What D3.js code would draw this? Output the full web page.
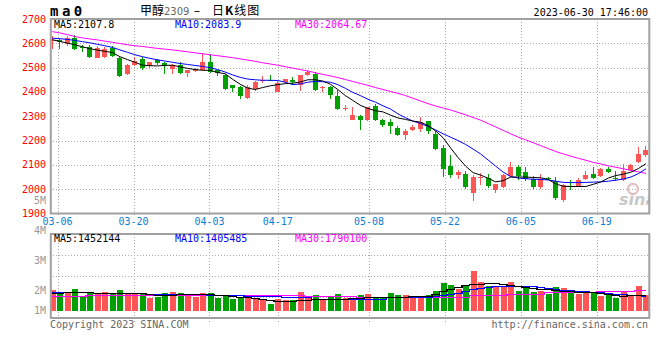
<!DOCTYPE html>
<html lang="zh">
<head>
<meta charset="UTF-8">
<script src="https://d3js.org/d3.v7.min.js"></script>
<style>
    body { margin: 0; background: #fff; }
    svg { display: block; }
    text { font-family: "DejaVu Sans Mono", monospace; font-size: 10px; }
</style>
<title>甲醇2309 日K线图</title>
</head>
<body>
<svg id="chart" width="660" height="360"></svg>
<script>

const dates = ["03-03","03-06","03-07","03-08","03-09","03-10","03-13","03-14","03-15","03-16","03-17",
    "03-20","03-21","03-22","03-23","03-24","03-27","03-28","03-29","03-30","03-31",
    "04-03","04-04","04-06","04-07","04-10","04-11","04-12","04-13","04-14",
    "04-17","04-18","04-19","04-20","04-21","04-24","04-25","04-26","04-27","04-28",
    "05-04","05-05","05-08","05-09","05-10","05-11","05-12","05-15","05-16","05-17","05-18","05-19",
    "05-22","05-23","05-24","05-25","05-26","05-29","05-30","05-31","06-01","06-02",
    "06-05","06-06","06-07","06-08","06-09","06-12","06-13","06-14","06-15","06-16",
    "06-19","06-20","06-21","06-26","06-27","06-28","06-29","06-30"];

const open = [2610,2612,2595,2622,2583,2585,2541,2544,2582,2541,2473,2510,2537,2507,2530,2519,2492,2509,2478,2486,
    2489,2523,2489,2471,2427,2420,2373,2411,2446,2449,2400,2441,2448,2427,2468,2475,2417,2420,2383,2333,
    2283,2300,2283,2342,2283,2276,2252,2222,2245,2249,2279,2226,2171,2094,2060,2064,1985,2044,2044,1996,
    2007,2057,2092,2071,2040,2007,2046,2034,1955,2015,2014,2040,2064,2055,2082,2048,2037,2078,2112,2140];
const high = [2629,2616,2630,2635,2595,2595,2590,2585,2590,2545,2515,2545,2545,2525,2535,2525,2515,2523,2492,2500,
    2560,2558,2492,2475,2430,2423,2427,2445,2465,2470,2445,2455,2460,2470,2489,2480,2425,2423,2410,2345,
    2338,2305,2340,2350,2290,2290,2260,2249,2265,2296,2282,2240,2180,2139,2080,2076,2058,2068,2064,2020,
    2064,2110,2100,2092,2055,2064,2050,2050,2020,2037,2045,2075,2092,2088,2092,2073,2105,2103,2174,2177];
const low = [2575,2578,2590,2571,2564,2540,2538,2540,2545,2461,2470,2505,2490,2500,2510,2475,2475,2475,2461,2483,
    2485,2478,2466,2410,2400,2371,2371,2405,2435,2445,2398,2436,2430,2402,2465,2405,2400,2373,2325,2320,
    2283,2242,2280,2280,2255,2229,2218,2204,2240,2237,2229,2160,2049,2045,2043,1999,1951,2016,2004,1985,
    2005,2050,2039,2035,2000,2000,2040,1957,1948,1996,2010,2038,2043,2050,2065,2033,2035,2075,2108,2133];
const close = [2613,2603,2620,2575,2580,2545,2582,2578,2550,2467,2510,2527,2500,2523,2517,2509,2509,2478,2489,2496,
    2523,2482,2475,2414,2414,2383,2420,2441,2449,2447,2438,2452,2438,2468,2482,2411,2419,2386,2329,2335,
    2304,2283,2338,2283,2263,2260,2222,2239,2256,2276,2239,2164,2085,2055,2071,2009,2050,2050,2012,2020,
    2057,2092,2055,2044,2007,2040,2043,1966,2016,2012,2037,2057,2046,2082,2071,2046,2075,2098,2143,2160];

// volume, million lots
const volume = [1.77,1.66,1.56,1.83,1.39,1.66,1.51,1.66,1.51,1.77,1.60,1.60,1.51,1.28,1.34,1.60,1.66,1.60,1.45,1.34,
    1.60,1.60,1.28,1.39,1.20,1.34,1.31,1.20,1.14,0.88,1.18,1.14,1.14,1.66,1.28,1.45,1.22,1.31,1.51,1.24,
    1.24,1.45,1.51,1.24,1.24,1.60,1.45,1.45,1.34,1.34,1.45,1.72,2.23,2.08,1.83,2.02,2.98,2.29,2.02,1.97,
    1.97,2.29,1.72,1.87,1.66,1.72,1.51,1.97,1.87,1.72,1.51,1.66,1.60,1.39,1.45,1.24,1.72,1.45,2.02,1.45];

const ma5 = [2615,2608,2601,2594,2586,2578,2572,2567,2562,2545,2533,2522,2510,2508,2507,2509,2510,2503,2497,2492,
    2489,2489,2480,2475,2452,2432,2416,2410,2418,2425,2430,2434,2436,2441,2450,2450,2445,2432,2410,2385,
    2365,2345,2332,2323,2318,2305,2293,2287,2280,2276,2262,2240,2212,2170,2130,2095,2068,2058,2045,2030,
    2035,2050,2050,2050,2048,2047,2040,2022,2012,2011,2011,2011,2020,2030,2046,2056,2062,2070,2085,2105];
const ma10 = [2621,2619,2616,2612,2607,2602,2596,2590,2583,2573,2563,2553,2545,2538,2532,2527,2522,2517,2513,2509,
    2505,2500,2492,2482,2470,2460,2453,2450,2448,2448,2447,2440,2430,2433,2440,2443,2442,2440,2430,2415,
    2398,2385,2370,2358,2343,2330,2310,2294,2280,2270,2258,2244,2228,2214,2200,2184,2165,2145,2120,2095,
    2070,2052,2046,2043,2041,2040,2038,2033,2028,2027,2027,2028,2029,2030,2033,2037,2042,2050,2064,2084];
const ma30 = [2648,2643,2636,2628,2622,2618,2614,2609,2604,2599,2594,2590,2587,2583,2579,2576,2573,2569,2565,2561,
    2557,2553,2549,2545,2541,2536,2531,2526,2520,2515,2510,2504,2498,2492,2486,2479,2472,2466,2459,2451,
    2443,2435,2427,2418,2410,2402,2394,2385,2374,2363,2352,2342,2334,2326,2316,2306,2295,2284,2270,2256,
    2242,2228,2214,2203,2191,2179,2167,2155,2145,2136,2127,2119,2110,2104,2096,2090,2084,2077,2071,2065];

const vma5 = [1.58,1.58,1.62,1.66,1.64,1.62,1.58,1.55,1.55,1.58,1.55,1.55,1.58,1.50,1.45,1.42,1.48,1.50,1.50,1.52,
    1.52,1.50,1.45,1.42,1.38,1.35,1.30,1.26,1.22,1.15,1.10,1.07,1.07,1.12,1.15,1.22,1.22,1.20,1.18,1.20,
    1.28,1.28,1.30,1.30,1.34,1.34,1.34,1.34,1.36,1.38,1.40,1.51,1.72,1.85,1.97,2.10,2.15,2.15,2.19,2.19,
    2.15,2.08,2.00,1.94,1.88,1.83,1.80,1.75,1.72,1.70,1.66,1.66,1.64,1.58,1.51,1.45,1.39,1.42,1.48,1.45];
const vma10 = [1.62,1.62,1.62,1.62,1.62,1.62,1.55,1.55,1.55,1.55,1.55,1.55,1.55,1.52,1.52,1.52,1.52,1.52,1.52,1.52,
    1.52,1.48,1.48,1.48,1.48,1.48,1.38,1.38,1.38,1.38,1.38,1.30,1.30,1.30,1.30,1.18,1.18,1.18,1.18,1.22,
    1.22,1.22,1.22,1.22,1.22,1.32,1.32,1.32,1.32,1.32,1.32,1.38,1.45,1.52,1.60,1.68,1.80,1.88,1.95,2.00,
    2.02,2.03,2.03,2.02,2.00,1.95,1.88,1.83,1.78,1.74,1.72,1.70,1.66,1.62,1.56,1.52,1.50,1.48,1.45,1.41];
const vma30 = [1.40,1.40,1.40,1.40,1.40,1.47,1.47,1.47,1.47,1.47,1.47,1.47,1.47,1.47,1.47,1.47,1.47,1.47,1.47,1.47,
    1.47,1.47,1.47,1.47,1.47,1.42,1.42,1.42,1.42,1.42,1.42,1.42,1.42,1.42,1.38,1.38,1.38,1.38,1.38,1.38,
    1.38,1.30,1.30,1.30,1.30,1.30,1.30,1.30,1.30,1.30,1.30,1.35,1.35,1.35,1.35,1.35,1.42,1.42,1.42,1.42,
    1.42,1.50,1.50,1.50,1.50,1.50,1.62,1.62,1.62,1.62,1.62,1.62,1.62,1.70,1.70,1.70,1.70,1.72,1.75,1.79];

const priceTicks = [1900, 2000, 2100, 2200, 2300, 2400, 2500, 2600, 2700];
const dateTicks = ["03-06", "03-20", "04-03", "04-17", "05-08", "05-22", "06-05", "06-19"];
const volTicks = [1, 2, 3, 4, 5];

const priceLegend = [["MA5:2107.8", "#000"], ["MA10:2083.9", "#0000ff"], ["MA30:2064.67", "#ff00ff"]];
const volLegend = [["MA5:1452144", "#000"], ["MA10:1405485", "#0000ff"], ["MA30:1790100", "#ff00ff"]];

const RED = "#ff5555", GREEN = "#00a000", GRID = "#aaaaaa", FRAME = "#a0a0a0";
const left = 50, right = 649.3;
const pTop = 19, pBottom = 213.5, vTop = 234, vBottom = 318, vBarBase = 311;

const svg = d3.select("#chart");
const rows = dates.map((d, i) => ({ date: d, o: open[i], h: high[i], l: low[i], c: close[i], v: volume[i] }));

const x = d3.scaleBand().domain(dates).range([48.5, 649.7]);
const cx = d => x(d) + x.bandwidth() / 2;
const gx = d3.scalePoint().domain(dates).range([50, 650]);   // grid columns
const y = d3.scaleLinear().domain([1900, 2700]).range([pBottom, pTop]);
const yv = d3.scaleLinear().domain([0, 5.3]).range([vBottom, vTop]);
const yvLabel = d3.scaleLinear().domain([0, 5]).range([350.7, 200.7]);

const defs = svg.append("defs");
defs.append("clipPath").attr("id", "clipP").append("rect")
    .attr("x", left).attr("y", pTop).attr("width", right - left).attr("height", pBottom - pTop);
defs.append("clipPath").attr("id", "clipV").append("rect")
    .attr("x", left).attr("y", vTop).attr("width", right - left).attr("height", vBottom - vTop);

// grids
const grid = svg.append("g").attr("stroke", GRID).attr("stroke-dasharray", "1,2").attr("shape-rendering", "crispEdges");
grid.selectAll(".hp").data(priceTicks.slice(1, -1)).enter().append("line")
    .attr("x1", left).attr("x2", right)
    .attr("y1", d => Math.round(y(d)) + 0.5).attr("y2", d => Math.round(y(d)) + 0.5);
grid.selectAll(".vp").data(dateTicks).enter().append("line")
    .attr("x1", d => Math.round(gx(d)) + 0.5).attr("x2", d => Math.round(gx(d)) + 0.5)
    .attr("y1", pTop).attr("y2", pBottom + 4);
grid.selectAll(".hv").data([1, 2, 3]).enter().append("line")
    .attr("x1", left).attr("x2", right)
    .attr("y1", d => Math.round(vTop + d * (vBottom - vTop) / 4) + 0.5)
    .attr("y2", d => Math.round(vTop + d * (vBottom - vTop) / 4) + 0.5);
grid.selectAll(".vv").data(dateTicks).enter().append("line")
    .attr("x1", d => Math.round(gx(d)) + 0.5).attr("x2", d => Math.round(gx(d)) + 0.5)
    .attr("y1", vTop).attr("y2", vBottom + 4);

// sina watermark
const wm = svg.append("g").attr("clip-path", "url(#clipP)");
wm.append("circle").attr("cx", 633).attr("cy", 189).attr("r", 5)
    .attr("fill", "none").attr("stroke", "#e6c4c4").attr("stroke-width", 2.5);
wm.append("text").attr("x", 619).attr("y", 205)
    .style("font-family", "DejaVu Sans").style("font-size", "16px").style("font-style", "italic")
    .style("font-weight", "bold").attr("fill", "#c8c8c8").text("sina");

// candles
const candle = svg.append("g").attr("clip-path", "url(#clipP)")
    .selectAll("g").data(rows).enter().append("g")
    .attr("fill", d => d.c >= d.o ? RED : GREEN)
    .attr("stroke", d => d.c >= d.o ? RED : GREEN);
candle.append("line")
    .attr("x1", d => Math.floor(cx(d.date)) + 0.5).attr("x2", d => Math.floor(cx(d.date)) + 0.5)
    .attr("y1", d => y(d.h)).attr("y2", d => y(d.l))
    .attr("shape-rendering", "crispEdges");
candle.append("rect")
    .attr("stroke", "none")
    .attr("x", d => Math.floor(cx(d.date)) - 2)
    .attr("width", 5)
    .attr("y", d => Math.round(y(Math.max(d.o, d.c))))
    .attr("height", d => Math.max(1, Math.round(Math.abs(y(d.o) - y(d.c)))))
    .attr("shape-rendering", "crispEdges");

// moving averages on price
const maLine = d3.line().x((d, i) => cx(dates[i])).y(d => y(d));
const maG = svg.append("g").attr("clip-path", "url(#clipP)").attr("fill", "none").attr("stroke-width", 1);
[[ma30, "#ff00ff"], [ma10, "#0000ff"], [ma5, "#000"]].forEach(([s, col]) => {
    maG.append("path").attr("d", maLine(s)).attr("stroke", col);
});

// volume bars
svg.append("g").attr("clip-path", "url(#clipV)")
    .selectAll("rect").data(rows).enter().append("rect")
    .attr("x", d => Math.floor(cx(d.date)) - 2.5)
    .attr("width", 6)
    .attr("y", d => Math.round(yv(d.v)))
    .attr("height", d => vBarBase - Math.round(yv(d.v)))
    .attr("fill", d => d.c >= d.o ? RED : GREEN)
    .attr("shape-rendering", "crispEdges");

const vLine = d3.line().curve(d3.curveStep).x((d, i) => cx(dates[i])).y(d => Math.round(yv(d)) + 0.5);
const vmaG = svg.append("g").attr("clip-path", "url(#clipV)").attr("fill", "none").attr("stroke-width", 1.5);
[[vma30, "#ff00ff"], [vma10, "#0000ff"], [vma5, "#000"]].forEach(([s, col]) => {
    vmaG.append("path").attr("d", vLine(s)).attr("stroke", col).attr("shape-rendering", "crispEdges");
});

// frames
const frame = svg.append("g").attr("fill", "none").attr("stroke", FRAME).attr("stroke-width", 2);
frame.append("rect").attr("x", left + 0.8).attr("y", pTop).attr("width", right - left - 0.8).attr("height", pBottom - pTop);
frame.append("rect").attr("x", left + 0.8).attr("y", vTop).attr("width", right - left - 0.8).attr("height", vBottom - vTop);

// price axis labels
svg.append("g").selectAll("text").data(priceTicks).enter().append("text")
    .attr("x", 46).attr("y", d => Math.max(y(d), 15)).attr("dy", "0.35em")
    .attr("text-anchor", "end").attr("fill", "#ff0000").text(d => d);

// volume axis labels
svg.append("g").selectAll("text").data(volTicks).enter().append("text")
    .attr("x", 46).attr("y", d => Math.min(yvLabel(d), 310.7)).attr("dy", "0.35em")
    .attr("text-anchor", "end").attr("fill", "#999").text(d => d + "M");

// date labels
svg.append("g").selectAll("text").data(dateTicks).enter().append("text")
    .attr("x", d => gx(d)).attr("y", 221.5).attr("dy", "0.35em")
    .attr("text-anchor", "middle").attr("fill", "#0a7fd4").text(d => d);

// legends
const legendX = [54, 175, 295];
svg.append("g").selectAll("text").data(priceLegend).enter().append("text")
    .attr("x", (d, i) => legendX[i]).attr("y", 24).attr("dy", "0.35em")
    .attr("fill", d => d[1]).text(d => d[0]);
svg.append("g").selectAll("text").data(volLegend).enter().append("text")
    .attr("x", (d, i) => legendX[i]).attr("y", 238.5).attr("dy", "0.35em")
    .attr("fill", d => d[1]).text(d => d[0]);

// header
svg.append("text").attr("x", 50).attr("y", 15.5)
    .style("font-size", "14px").style("font-weight", "bold").style("letter-spacing", "3.5px")
    .text("ma0");
const cjk = "'Noto Sans CJK SC', sans-serif";
const title = svg.append("g").style("font-family", cjk).style("font-size", "12px");
title.append("text").attr("x", 140).attr("y", 14.5).style("font-family", cjk).style("font-size", "12px").text("甲醇");
title.append("text").attr("x", 164).attr("y", 14.5).attr("fill", "#666")
    .style("font-family", "'DejaVu Sans'").style("font-size", "10px").text("2309");
title.append("text").attr("x", 194).attr("y", 14.5).style("font-family", "'DejaVu Sans'").style("font-size", "12px").text("–");
const t2 = title.append("text").attr("x", 212).attr("y", 14.5).style("font-family", cjk).style("font-size", "12px").style("letter-spacing", "1px");
t2.append("tspan").text("日");
t2.append("tspan").style("font-weight", "bold").text("K");
t2.append("tspan").text("线图");
svg.append("text").attr("x", 648).attr("y", 12).attr("dy", "0.35em")
    .attr("text-anchor", "end").text("2023-06-30 17:46:00");

// footer
svg.append("text").attr("x", 50).attr("y", 324).attr("dy", "0.35em")
    .attr("fill", "#666").text("Copyright 2023 SINA.COM");
svg.append("text").attr("x", 648).attr("y", 324).attr("dy", "0.35em")
    .attr("text-anchor", "end").attr("fill", "#666").text("http://finance.sina.com.cn");

</script>
</body>
</html>
